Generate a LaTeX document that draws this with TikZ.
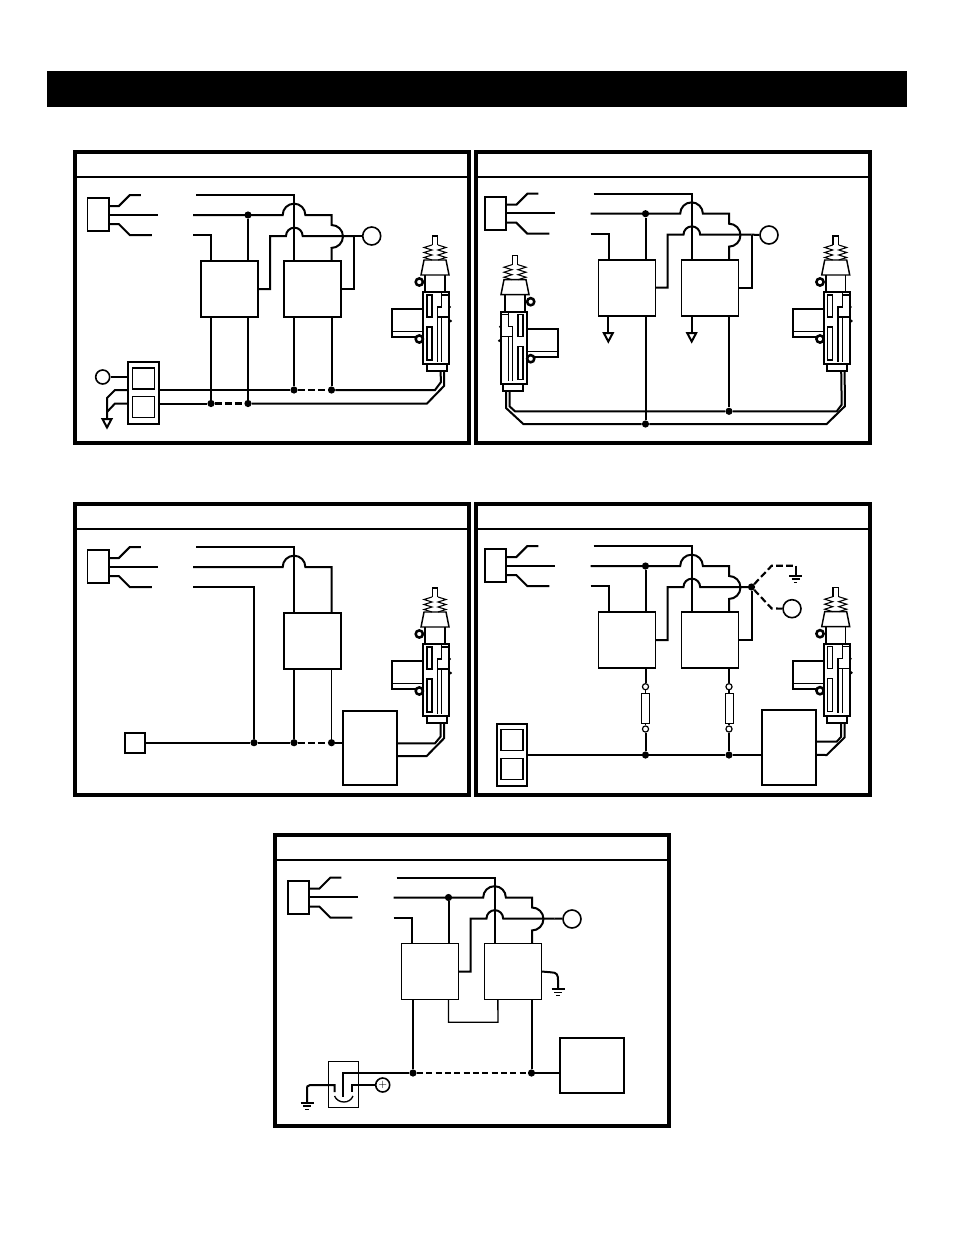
\documentclass[tikz,border=0pt]{standalone}
\usetikzlibrary{calc}

\tikzset{
    wire/.style={line width=1.5pt},
    thinwire/.style={line width=1pt},
    dashwire/.style={line width=1.6pt, dash pattern=on 5pt off 2.5pt},
    frameline/.style={line width=2.6pt},
    dot/.style={circle, fill=black, inner sep=0pt, minimum size=5.4pt},
    lampbig/.style={circle, draw, line width=1.2pt, inner sep=0pt, minimum size=13.5pt},
    lampsmall/.style={circle, draw, line width=1.2pt, inner sep=0pt, minimum size=10.5pt},
    termring/.style={circle, draw, line width=.9pt, inner sep=0pt, minimum size=4.6pt},
    plainbox/.style={rectangle, draw, line width=1.4pt, inner sep=0pt, outer sep=0pt},
    relaybox/.style={plainbox, minimum width=42.75pt, minimum height=42pt},
    feedbox/.style={plainbox, minimum width=16pt, minimum height=24.75pt},
    fusebox/.style={plainbox, line width=.7pt, minimum width=6pt, minimum height=22.5pt},
    feed/.pic={
        % Plug with its three leads
        \node[feedbox] (-conn) at (98.2,214.7) {};
        \draw[wire] ([yshift=6.5pt]-conn.east) -- ++(10,0) -- ++(11,-11) -- ++(11,0);
        \draw[wire] (-conn.east) -- ++(49,0);
        \draw[wire] ([yshift=-7pt]-conn.east) -- ++(10,0) -- ++(11,11) -- ++(22,0);
        \coordinate (-wt) at (196,195);
        \coordinate (-wm) at (193,215);
        \coordinate (-wb) at (193,235);
    },
    relays/.pic={
        % Two relays, wire jumps
        \node[relaybox] (-b1) at (229.5,289) {};
        \node[relaybox] (-b2) at (312.5,289) {};
        \coordinate (-hub) at (354,236);
        \node[dot] (-jm) at (248,215) {};
        \draw[wire] (-wt) -| ([xshift=7.5pt]-b2.north west);
        \draw[wire] (-wm) -- (282.7,215) arc[start angle=180, end angle=0, radius=8.5pt]
            -- (331.5,215) -- (331.5,225) arc[start angle=90, end angle=-90, radius=8.6pt]
            -- ([xshift=-7pt]-b2.north east);
        \draw[wire] (-wb) -| ([xshift=7.5pt]-b1.north west);
        \draw[wire] (-jm) -- (-jm |- -b1.north);
        \draw[wire] (-b1.east) -- (270,289) -- (270,236) -- (286,236)
            arc[start angle=180, end angle=0, radius=6.25pt] -- (-hub);
    },
    actuator/.pic={
        % Plunger and boot
        \draw[thinwire] (432.3,245) -- (432.3,236) -- (437.7,236) -- (437.7,245);
        \foreach \a/\b in {432/424,438/446}
            {
                \draw[line width=.8pt] (\a,245) -- (\b,247.5) -- (\a,250) -- (\b,252.5) -- (\a,255) -- (\b,257.5) -- (\a,260);
            }
        \draw[line width=1.1pt] (421,275) -- (424,260) -- (446,260) -- (449,275) -- cycle;
        \draw[wire] (425,275) -- (425,292);
        \draw[thinwire] (445,275) -- (445,292);
        % Body
        \draw[wire] (423,292) rectangle (449.3,364.3);
        \draw[wire] (426.7,364.3) rectangle (446.7,371);
        \draw[line width=.9pt] (427,295) rectangle (432,317);
        \draw[line width=.9pt] (427,327) rectangle (432,360);
        \draw[line width=.8pt] (441.7,292) -- (441.7,307) -- (437.3,307) -- (437.3,361.7);
        \draw[line width=.8pt] (437.3,317) -- (449.3,317);
        \draw[line width=.8pt] (441.7,317) -- (441.7,361.7);
        \draw[line width=.8pt] (441.7,295) -- (449.3,295);
        % Side tube, rings
        \draw[wire] (423,309) -- (392,309) -- (392,337) -- (416,337);
        \draw[thinwire] (392,331.5) -- (423,331.5);
        \draw[line width=1.9pt, fill=white] (419.3,282) circle[radius=2.7pt];
        \draw[line width=1.9pt, fill=white] (419.3,339) circle[radius=2.7pt];
        \fill (450,307) circle[radius=.9pt];
        \fill (450.7,321) circle[radius=1.1pt];
        \coordinate (-pa) at (440.5,371);
        \coordinate (-pb) at (444,371);
    },
    switchpair/.pic={
        \node[plainbox, minimum width=23pt, minimum height=46.5pt] (-box) at (0,0) {};
        \node[plainbox, line width=.9pt, minimum width=16.5pt, minimum height=15.75pt] (-up) at (0,-14.5) {};
        \node[plainbox, line width=.9pt, minimum width=16.5pt, minimum height=15.75pt] (-dn) at (0,14) {};
    },
    tri/.pic={
        \coordinate (-t) at (0,0);
        \draw[wire] (-4.5,0) -- (4.5,0) -- (0,8.5) -- cycle;
    },
    earth/.pic={
        \coordinate (-t) at (0,0);
        \draw[wire] (-6.5,0) -- (6.5,0);
        \draw[thinwire] (-4,3.3) -- (4,3.3);
        \draw[thinwire] (-1.7,6.6) -- (1.7,6.6);
    },
}

\begin{document}
\begin{tikzpicture}[x=0.75pt, y=-0.75pt]

        \useasboundingbox (0,0) rectangle (954,1235);

        % Title bar
        \fill[black] (47,71) rectangle (907,107);

        % Panels
        \foreach \x/\y in {0/0,401/0,0/352,401/352,200/683}
            {
                \draw[frameline] (75+\x,152+\y) rectangle ++(394,291);
                \draw[wire] (75+\x,177+\y) -- ++(394,0);
            }

        % Panel one
        \pic (a) at (0,0) {feed};
        \pic (a) at (0,0) {relays};
        \pic (ar) at (0,0) {actuator};
        \pic (asw) at (143.3,393) {switchpair};
        \pic (ag) at (107,419) {tri};
        \node[lampbig] (ac) at (371.7,236) {};
        \node[lampsmall] (al) at (102.7,377) {};
        \node[dot] (a1) at (211,403.5) {};
        \node[dot] (a2) at (248,403.5) {};
        \node[dot] (a3) at (294,390) {};
        \node[dot] (a4) at (331.5,390) {};
        \draw[wire] (a-hub) -- (ac);
        \draw[wire] (a-b2.east) -| (a-hub);
        \draw[wire] (a1 |- a-b1.south) -- (a1);
        \draw[wire] (a2 |- a-b1.south) -- (a2);
        \draw[wire] (a3 |- a-b2.south) -- (a3);
        \draw[wire] (a4 |- a-b2.south) -- (a4);
        \draw[wire] (asw-box.east |- a3) -- (a3);
        \draw[dashwire] (a3) -- (a4);
        \draw[wire] (a4) -- (435,390) -- (441,382) -- (ar-pa);
        \draw[wire] (asw-box.east |- a1) -- (a1);
        \draw[dashwire] (a1) -- (a2);
        \draw[wire] (a2) -- (427,403.5) -- (444,386) -- (ar-pb);
        \draw[thinwire] (al) -- (al -| asw-box.west);
        \draw[wire] (asw-box.west |- a3) -- (115,390) -- (107,398) -- (ag-t);
        \draw[wire] (asw-box.west |- a1) -- (115,403.5) -- (107,412);

        % Panel two
        \pic (b) at (397.5,-1.3) {feed};
        \pic (b) at (397.5,-1.3) {relays};
        \pic (br) at (400.7,0) {actuator};
        \pic[xscale=-1] (bl) at (950,19.7) {actuator};
        \pic (bg1) at (608.3,333) {tri};
        \pic (bg2) at (691.7,333) {tri};
        \node[lampbig] (bc) at (769,235) {};
        \node[dot] (b1) at (645.5,424) {};
        \node[dot] (b2) at (729,411.3) {};
        \draw[wire] (b-hub) -- (bc);
        \draw[wire] (b-b2.east) -| (b-hub);
        \draw[wire] (bg1-t |- b-b1.south) -- (bg1-t);
        \draw[wire] (bg2-t |- b-b2.south) -- (bg2-t);
        \draw[wire] (b1 |- b-b1.south) -- (b1);
        \draw[wire] (b2 |- b-b2.south) -- (b2);
        \draw[wire] (bl-pa) -- (509.5,406.3) -- (515,411.3) -- (b2) -- (836.7,411.3) -- (841.7,404.7) -- (br-pa);
        \draw[wire] (bl-pb) -- (506,408) -- (523.3,424) -- (b1) -- (826.7,424) -- (844.8,406.3) -- (br-pb);

        % Panel three
        \pic (c) at (0,352) {feed};
        \pic (cr) at (0,352) {actuator};
        \node[relaybox] (c-b2) at (312.5,641) {};
        \node[plainbox, minimum size=15pt] (ckey) at (135,742.7) {};
        \node[plainbox, minimum width=40.5pt, minimum height=56pt] (cm) at (369.7,748) {};
        \node[dot] (c1) at (254,742.7) {};
        \node[dot] (c2) at (294,742.7) {};
        \node[dot] (c3) at (331.5,742.7) {};
        \draw[wire] (c-wt) -| ([xshift=7.5pt]c-b2.north west);
        \draw[wire] (c-wm) -- (282.7,567) arc[start angle=180, end angle=0, radius=8.5pt]
            -- (331.5,567) -- ([xshift=-7pt]c-b2.north east);
        \draw[wire] (c-wb) -| (c1);
        \draw[wire] (ckey) -- (c1) -- (c2);
        \draw[dashwire] (c2) -- (c3);
        \draw[wire] (c3) -- (c3 -| cm.west);
        \draw[wire] (c2 |- c-b2.south) -- (c2);
        \draw[thinwire] (c3 |- c-b2.south) -- (c3);
        \draw[wire] ([yshift=3.5pt]cm.east) -- (435,743.3) -- (440.5,736.7) -- (cr-pa);
        \draw[wire] ([yshift=-6pt]cm.east) -- (426.7,756) -- (444,738.3) -- (cr-pb);

        % Panel four
        \pic (d) at (397.5,351) {feed};
        \pic (d) at (397.5,351) {relays};
        \pic (dr) at (400.7,351.7) {actuator};
        \pic (dsw) at (512,754.6) {switchpair};
        \pic (dg) at (795.5,575.7) {earth};
        \node[dot] (dh) at (d-hub) {};
        \node[lampbig] (dc) at (792,608.7) {};
        \node[plainbox, minimum width=40.7pt, minimum height=56.5pt] (dm) at (788.8,747.6) {};
        \draw[wire] (d-b2.east) -| (dh);
        \draw[dashwire] (dh) -- (771.7,565.7) -- (795.5,565.7);
        \draw[wire] (795.5,565.7) -- (dg-t);
        \draw[dashwire] (dh) -- (771.7,608.5) -- (dc);
        \foreach \n/\x in {1/645.5,2/729}
            {
                % Fuse holders
                \node[dot] (dd\n) at (\x,755) {};
                \node[fusebox] (df\n) at (\x,708.3) {};
                \node[termring] (dt\n) at (\x,686.7) {};
                \node[termring] (du\n) at (\x,729) {};
                \draw[wire] (df\n |- d-b1.south) -- (dt\n);
                \draw[thinwire] (dt\n) -- (df\n);
                \draw[thinwire] (df\n) -- (du\n);
                \draw[wire] (du\n) -- (dd\n);
            }
        \draw[wire] (dsw-box.east |- dd1) -- (dd1) -- (dd2) -- (dd2 -| dm.west);
        \draw[wire] ([yshift=4.4pt]dm.east) -- (836.7,741.7) -- (841.2,736.7) -- (dr-pa);
        \draw[wire] ([yshift=-5.5pt]dm.east) -- (826.7,755) -- (844.7,737.3) -- (dr-pb);

        % Panel five
        \pic (e) at (200.5,682.5) {feed};
        \pic (e) at (200.5,682.5) {relays};
        \pic (eg) at (558,989) {earth};
        \pic (eh) at (307,1102.7) {earth};
        \node[lampbig] (ec) at (572,919) {};
        \node[dot] (e1) at (413,1073) {};
        \node[dot] (e2) at (531.5,1073) {};
        \node[plainbox, minimum width=48.2pt, minimum height=41.7pt] (em) at (591.9,1065.5) {};
        \node[plainbox, line width=1pt, minimum width=22.2pt, minimum height=34.2pt] (er) at (343.5,1084.5) {};
        \node[lampsmall, font=\footnotesize] (ep) at (382.7,1085) {+};
        \draw[wire] (e-hub) -- (ec);
        \draw[wire] (e-b2.east) -- (551,972.3) .. controls (557,972.3) and (558,975) .. (558,980) -- (eg-t);
        \draw[wire] (e1 |- e-b1.south) -- (e1);
        \draw[wire] (e2 |- e-b2.south) -- (e2);
        \draw[thinwire] (e-jm |- e-b1.south) -- (448.5,1022.3) -- (498,1022.3) -- ([xshift=10pt]e-b2.south west);
        \draw[dashwire, line width=2pt, dash pattern=on 4.5pt off 2.5pt] (e1) -- (e2);
        \draw[wire] (e2) -- (e2 -| em.west);
        \draw[wire] (e1) -- (343.3,1073) -- (343.3,1096.7);
        \draw[wire] (ep) -- (351.7,1085) -- (351.7,1092);
        \draw[wire] (eh-t) -- (307,1090) .. controls (307,1086) .. (310,1085) -- (334.5,1085) -- (334.5,1092);
        \draw[thinwire] (334.5,1096) .. controls (338,1104) and (350,1104) .. (353,1096);

    \end{tikzpicture}
\end{document}
